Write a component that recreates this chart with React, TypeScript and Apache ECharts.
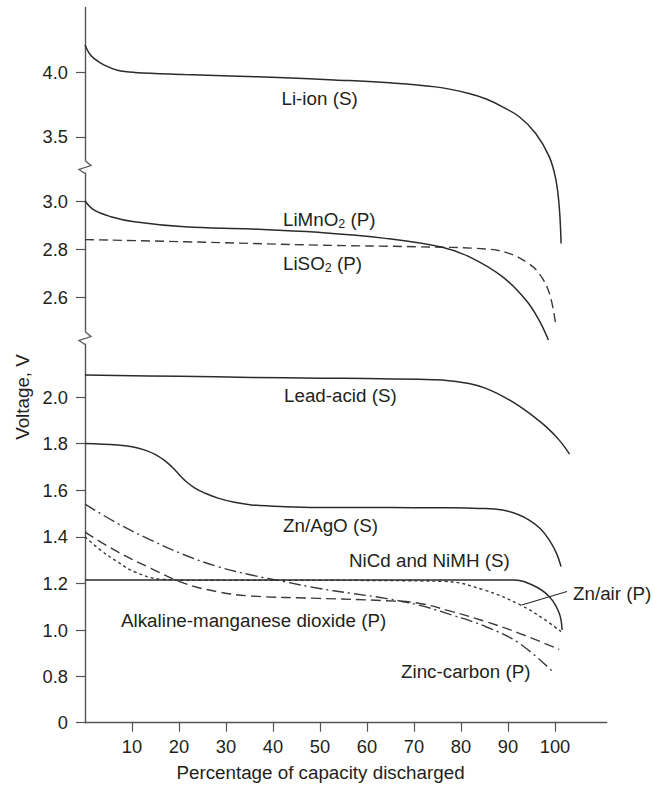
import React, { useEffect, useRef } from "react";
import * as echarts from "echarts";

// ---------- data (x = % of capacity discharged, v = volts) ----------
const xTicks = [10, 20, 30, 40, 50, 60, 70, 80, 90, 100];
const yTicks = [0, 0.8, 1.0, 1.2, 1.4, 1.6, 1.8, 2.0, 2.6, 2.8, 3.0, 3.5, 4.0];

const liIon = [[0, 4.21], [1.0, 4.14], [2.1, 4.1], [4.1, 4.054], [6.9, 4.015], [10.5, 3.998], [21.2, 3.982], [31, 3.971], [42.5, 3.956], [53, 3.94], [63.9, 3.92], [74.6, 3.886], [81.7, 3.835], [85.5, 3.79], [88.8, 3.732], [92.4, 3.655], [95.9, 3.526], [98.8, 3.345], [100.2, 3.087], [100.9, 2.976], [101.3, 2.824]];
const liMnO2 = [[0, 3.0], [1.9, 2.963], [5.5, 2.935], [10.5, 2.914], [21.2, 2.893], [35.4, 2.884], [49.6, 2.87], [63.9, 2.845], [76, 2.808], [81.7, 2.769], [88.8, 2.686], [93.8, 2.589], [96.6, 2.506], [98.6, 2.423]];
const liSO2 = [[0, 2.84], [21.2, 2.831], [49.6, 2.817], [71, 2.81], [85.3, 2.801], [90.2, 2.783], [93.8, 2.748], [96.6, 2.7], [98.8, 2.617], [100.1, 2.493]];
const leadAcid = [[0, 2.094], [20, 2.089], [35.4, 2.084], [50, 2.081], [60, 2.079], [71, 2.076], [76, 2.073], [81.7, 2.058], [85.3, 2.037], [88.8, 2.004], [92.4, 1.961], [95.2, 1.92], [98.1, 1.873], [100.9, 1.815], [103.1, 1.755]];
const znAgO = [[0, 1.8], [6.9, 1.794], [10, 1.787], [12.6, 1.773], [14.9, 1.754], [16.9, 1.728], [18.5, 1.7], [19.9, 1.67], [21.3, 1.641], [23.3, 1.61], [25.6, 1.587], [28.3, 1.566], [31.8, 1.548], [35.4, 1.537], [42.6, 1.529], [49.6, 1.526], [60, 1.526], [70, 1.525], [78.1, 1.525], [84, 1.522], [88.8, 1.515], [92, 1.497], [94.5, 1.472], [96.9, 1.435], [98.8, 1.386], [100.3, 1.33], [101.3, 1.272]];
const niCd = [[0, 1.215], [91, 1.215], [95.2, 1.193], [98.8, 1.143], [100.9, 1.072], [101.5, 1.0]];
const znAir = [[0, 1.4], [3.3, 1.343], [6.9, 1.293], [10.5, 1.25], [16.2, 1.218], [25, 1.213], [50, 1.213], [76.3, 1.209], [84.9, 1.172], [92.7, 1.107], [97.4, 1.05], [101.3, 0.993]];
const alkaline = [[0, 1.42], [6.9, 1.336], [14, 1.265], [21.2, 1.2], [28.3, 1.164], [35.4, 1.146], [49.6, 1.136], [63.9, 1.126], [71, 1.115], [78.1, 1.079], [85.3, 1.036], [92.4, 0.986], [100.9, 0.917]];
const zincCarbon = [[0, 1.54], [6.9, 1.458], [14, 1.386], [21.2, 1.322], [28.3, 1.272], [35.4, 1.236], [42.5, 1.207], [49.6, 1.179], [56.8, 1.157], [63.9, 1.136], [71, 1.107], [78.1, 1.064], [85.3, 1.014], [92.4, 0.943], [99.9, 0.814]];

// ---------- broken voltage scale (segments with their own px per volt) ----------
const ySegments = [
  { from: 0, to: 0.8, ppv: 57.6 },
  { from: 0.8, to: 2.232, ppv: 233 },
  { from: 2.411, to: 3.145, ppv: 241 },
  { from: 3.274, to: 4.5, ppv: 129.4 },
];
function toD(v: number): number {
  let base = 0;
  for (const s of ySegments) {
    if (v <= s.to) return base + Math.max(0, v - s.from) * s.ppv;
    base += (s.to - s.from) * s.ppv;
  }
  return base;
}
const totalD = toD(4.5);

const FONT = '"Liberation Sans", Arial, Helvetica, sans-serif';
const INK = "#231f20";
const LINE = "#2b2b2b";
const DASH = "#3a3a3a";
const AXIS = "#555555";
const LABEL_SIZE = 18.8;
const TICK_SIZE = 18.3;

const W = 653;
const H = 787;
const GRID_LEFT = 85;
const GRID_BOTTOM = 64.3;
const GRID_RIGHT = 46.3;
const GRID_TOP = H - GRID_BOTTOM - totalD;

const yTickD = yTicks.map(toD);
const yTickLabel = (d: number) => {
  let best = 0;
  let bd = Infinity;
  yTickD.forEach((t, i) => {
    const dd = Math.abs(t - d);
    if (dd < bd) { bd = dd; best = i; }
  });
  const v = yTicks[best];
  return v === 0 ? "0" : v.toFixed(1);
};

function mkSeries(name: string, pts: number[][], type: any, width = 1.5, color = LINE) {
  return {
    name,
    type: "line",
    data: pts.map(([x, v]) => [x, toD(v)]),
    showSymbol: false,
    smooth: 0.4,
    clip: true,
    lineStyle: { color, width, type },
  };
}

const labelTexts = [
  { text: "Li-ion (S)", x: 281.5, y: 98.5 },
  { text: "LiMnO{s|2} (P)", x: 283, y: 219.5 },
  { text: "LiSO{s|2} (P)", x: 283, y: 263.5 },
  { text: "Lead-acid (S)", x: 284, y: 395 },
  { text: "Zn/AgO (S)", x: 283, y: 525.5 },
  { text: "NiCd and NiMH (S)", x: 349, y: 560 },
  { text: "Alkaline-manganese dioxide (P)", x: 121, y: 620.5 },
  { text: "Zinc-carbon (P)", x: 401, y: 671 },
  { text: "Zn/air (P)", x: 573, y: 593 },
];

export default function App() {
  const ref = useRef<HTMLDivElement>(null);
  useEffect(() => {
    if (!ref.current) return;
    const chart = echarts.init(ref.current, undefined, { renderer: "svg" });

    const breakMark = (yc: number) => [
      {
        type: "rect",
        z: 100,
        shape: { x: GRID_LEFT - 3, y: yc - 6, width: 6, height: 12 },
        style: { fill: "#ffffff" },
      },
      {
        type: "polyline",
        z: 101,
        shape: {
          points: [
            [GRID_LEFT, yc - 6],
            [GRID_LEFT + 6, yc - 1],
            [GRID_LEFT - 6, yc + 3],
            [GRID_LEFT, yc + 7],
          ],
        },
        style: { stroke: AXIS, lineWidth: 1.3, fill: null },
      },
    ];

    const graphic: any[] = [
      ...breakMark(166.5),
      ...breakMark(337.5),
      ...labelTexts.map((l) => ({
        type: "text",
        z: 100,
        x: l.x,
        y: l.y,
        style: {
          text: l.text,
          fill: INK,
          font: `${LABEL_SIZE}px ${FONT}`,
          align: "left",
          verticalAlign: "middle",
          lineHeight: 22,
          rich: {
            s: { fontSize: 12.5, lineHeight: 12, verticalAlign: "bottom", fontFamily: FONT, fill: INK },
          },
        },
      })),
      {
        type: "line",
        z: 100,
        shape: { x1: 521.7, y1: 605, x2: 567, y2: 591.5 },
        style: { stroke: LINE, lineWidth: 1.2 },
      },
      {
        type: "text",
        z: 100,
        x: 22,
        y: 397,
        rotation: Math.PI / 2,
        style: {
          text: "Voltage, V",
          fill: INK,
          font: `${LABEL_SIZE}px ${FONT}`,
          align: "center",
          verticalAlign: "middle",
        },
      },
      {
        type: "text",
        z: 100,
        x: 320.5,
        y: 772,
        style: {
          text: "Percentage of capacity discharged",
          fill: INK,
          font: `${LABEL_SIZE}px ${FONT}`,
          align: "center",
          verticalAlign: "middle",
        },
      },
    ];

    chart.setOption({
      animation: false,
      backgroundColor: "#ffffff",
      grid: {
        left: GRID_LEFT,
        right: GRID_RIGHT,
        top: GRID_TOP,
        bottom: GRID_BOTTOM,
        containLabel: false,
        outerBoundsMode: "none",
      },
      xAxis: {
        type: "value",
        min: 0,
        max: 111,
        axisLine: { show: true, onZero: false, lineStyle: { color: AXIS, width: 1.4 } },
        axisTick: { show: true, length: 9, inside: false, customValues: xTicks, lineStyle: { color: AXIS, width: 1.2 } },
        axisLabel: { customValues: xTicks, margin: 15, fontSize: TICK_SIZE, color: INK, fontFamily: FONT },
        splitLine: { show: false },
      },
      yAxis: {
        type: "value",
        min: 0,
        max: totalD,
        axisLine: { show: true, onZero: false, lineStyle: { color: AXIS, width: 1.4 } },
        axisTick: { show: true, length: 9, inside: false, customValues: yTickD, lineStyle: { color: AXIS, width: 1.2 } },
        axisLabel: {
          customValues: yTickD,
          margin: 17,
          fontSize: TICK_SIZE,
          color: INK,
          fontFamily: FONT,
          formatter: (val: number) => yTickLabel(val),
        },
        splitLine: { show: false },
      },
      series: [
        mkSeries("Zn/air (P)", znAir, [3, 3], 1.4, DASH),
        mkSeries("Alkaline-manganese dioxide (P)", alkaline, [10, 5], 1.4, DASH),
        mkSeries("Zinc-carbon (P)", zincCarbon, [12, 4, 2, 4], 1.4, DASH),
        mkSeries("NiCd and NiMH (S)", niCd, "solid"),
        mkSeries("Zn/AgO (S)", znAgO, "solid"),
        mkSeries("Lead-acid (S)", leadAcid, "solid"),
        mkSeries("LiSO2 (P)", liSO2, [9, 5], 1.4, DASH),
        mkSeries("LiMnO2 (P)", liMnO2, "solid"),
        mkSeries("Li-ion (S)", liIon, "solid"),
      ],
      graphic,
    });
    return () => chart.dispose();
  }, []);
  return (
    <div
      ref={ref}
      style={{ position: "absolute", left: 0, top: 0, width: W, height: H, background: "#fff" }}
    />
  );
}
